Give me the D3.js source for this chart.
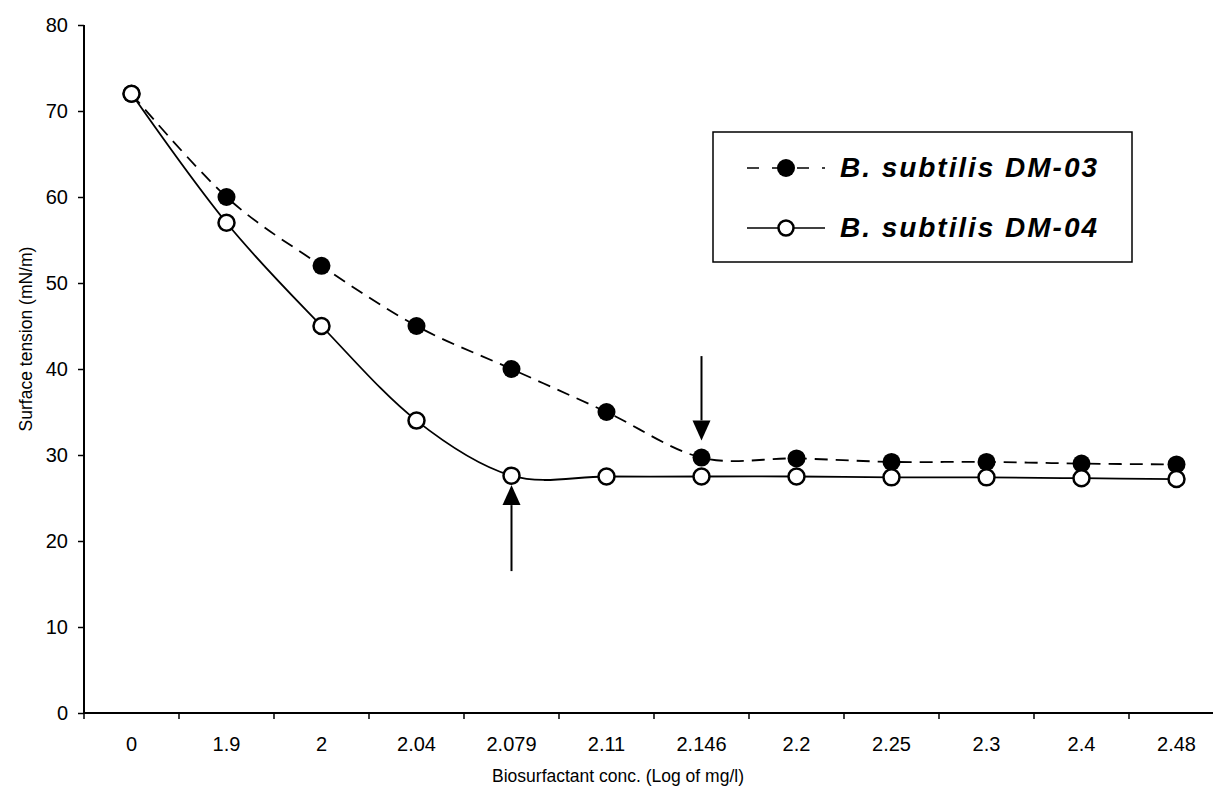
<!DOCTYPE html>
<html><head><meta charset="utf-8">
<script src="https://cdn.jsdelivr.net/npm/d3@7/dist/d3.min.js"></script>
<style>body{margin:0;background:#fff}svg{display:block;font-family:Arial,"Liberation Sans",sans-serif}</style>
</head><body><svg id="c" width="1213" height="792"></svg>
<script>
const categories = ["0","1.9","2","2.04","2.079","2.11","2.146","2.2","2.25","2.3","2.4","2.48"];
const dm03 = [72, 60, 52, 45, 40, 35, 29.7, 29.6, 29.2, 29.2, 29.0, 28.9];
const dm04 = [72, 57, 45, 34, 27.6, 27.5, 27.5, 27.5, 27.4, 27.4, 27.3, 27.2];
const yTicks = [0,10,20,30,40,50,60,70,80];
const seriesNames = ["B. subtilis DM-03","B. subtilis DM-04"];
const arrows = [{cat:"2.146", from:41.5, to:31.7},{cat:"2.079", from:16.5, to:26.5}];

const svg = d3.select("#c");
const x = d3.scaleBand().domain(categories).range([84, 1224]);
const y = d3.scaleLinear().domain([0,80]).range([713, 25]);
const cx = c => x(c) + x.bandwidth()/2;

// y axis
const ya = svg.append("g").attr("transform","translate(84,0)")
  .call(d3.axisLeft(y).tickValues(yTicks).tickSize(6).tickPadding(10));
ya.select(".domain").attr("stroke","#000").attr("stroke-width",2).attr("d","M0,"+y(80)+"V"+y(0));
ya.selectAll(".tick line").attr("stroke","#000").attr("stroke-width",1.5);
ya.selectAll(".tick text").attr("font-size",20).attr("fill","#000").attr("font-family","Arial, 'Liberation Sans', sans-serif");

// x axis
const xa = svg.append("g").attr("transform","translate(0,713)")
  .call(d3.axisBottom(x).tickSize(0).tickPadding(24));
xa.select(".domain").attr("stroke","#000").attr("stroke-width",2).attr("d","M84,0H1213");
xa.selectAll(".tick text").attr("font-size",20).attr("fill","#000").attr("font-family","Arial, 'Liberation Sans', sans-serif");
// category boundary ticks
svg.append("g").selectAll("line").data(categories).join("line")
  .attr("x1",d=>x(d)).attr("x2",d=>x(d)).attr("y1",713).attr("y2",719)
  .attr("stroke","#000").attr("stroke-width",1.5);

// titles
svg.append("text").attr("x",618).attr("y",782).attr("text-anchor","middle")
  .attr("font-size",17.5).text("Biosurfactant conc. (Log of mg/l)");
svg.append("text").attr("transform","translate(32,339) rotate(-90)").attr("text-anchor","middle")
  .attr("font-size",17.5).text("Surface tension (mN/m)");

const line = d3.line().x((d,i)=>cx(categories[i])).y(d=>y(d)).curve(d3.curveCardinal.tension(0));

svg.append("path").datum(dm03).attr("d",line).attr("fill","none").attr("stroke","#000")
  .attr("stroke-width",1.8).attr("stroke-dasharray","13,8");
svg.append("path").datum(dm04).attr("d",line).attr("fill","none").attr("stroke","#000")
  .attr("stroke-width",1.8);

svg.append("g").selectAll("circle").data(dm03).join("circle")
  .attr("cx",(d,i)=>cx(categories[i])).attr("cy",d=>y(d)).attr("r",9).attr("fill","#000");
svg.append("g").selectAll("circle").data(dm04).join("circle")
  .attr("cx",(d,i)=>cx(categories[i])).attr("cy",d=>y(d)).attr("r",8)
  .attr("fill","#fff").attr("stroke","#000").attr("stroke-width",2.5);

// arrows
arrows.forEach(a=>{
  const X = cx(a.cat), y1 = y(a.from), y2 = y(a.to);
  const dir = y2 > y1 ? 1 : -1;
  const hb = y2 - dir*20;
  svg.append("line").attr("x1",X).attr("x2",X).attr("y1",y1).attr("y2",hb).attr("stroke","#000").attr("stroke-width",2);
  svg.append("path").attr("d",`M${X-9},${hb}L${X+9},${hb}L${X},${y2}Z`).attr("fill","#000");
});

// legend
const lg = svg.append("g");
lg.append("rect").attr("x",713).attr("y",132).attr("width",419).attr("height",130)
  .attr("fill","#fff").attr("stroke","#000").attr("stroke-width",1.5);
const rows = [{name:seriesNames[0], y:168, filled:true},{name:seriesNames[1], y:228, filled:false}];
rows.forEach(r=>{
  lg.append("line").attr("x1",747).attr("x2",825).attr("y1",r.y).attr("y2",r.y)
    .attr("stroke","#000").attr("stroke-width",1.6).attr("stroke-dasharray",r.filled?"12,13":null);
  if(r.filled) lg.append("circle").attr("cx",786).attr("cy",r.y).attr("r",9).attr("fill","#000");
  else lg.append("circle").attr("cx",786).attr("cy",r.y).attr("r",7.5).attr("fill","#fff").attr("stroke","#000").attr("stroke-width",2.5);
  lg.append("text").attr("x",840).attr("y",r.y+9).attr("font-size",28).attr("font-weight","bold")
    .attr("font-style","italic").attr("textLength",257).attr("lengthAdjust","spacing").text(r.name);
});
</script></body></html>
